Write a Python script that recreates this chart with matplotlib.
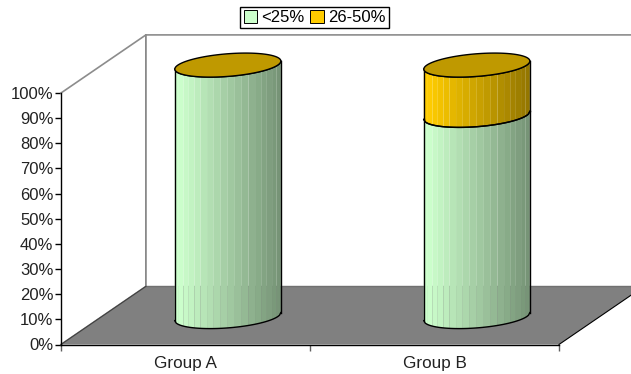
import matplotlib
matplotlib.use("Agg")
import matplotlib.pyplot as plt
import numpy as np
from matplotlib.patches import Patch

plt.rcParams['font.family'] = ['Liberation Sans', 'DejaVu Sans']

groups = ["Group A", "Group B"]
series_names = ["<25%", "26-50%"]
under_25 = [100, 80]
from_26_to_50 = [0, 20]
series_values = [under_25, from_26_to_50]
side_colors = ["#ccffcc", "#ffcc00"]
top_color = "#bf9900"
y_ticks = [0, 10, 20, 30, 40, 50, 60, 70, 80, 90, 100]
y_labels = ["0%", "10%", "20%", "30%", "40%", "50%", "60%", "70%", "80%", "90%", "100%"]

# 3d look, in axis units
depth_x = 0.341
depth_y = 23.1
cyl_offset = 0.67
cyl_a = 0.2129
cyl_b = 4.5
cyl_tilt = 1.6
cyl_base = 11.1
n_bands = 18


def shade(color, frac):
    rgb = np.array(matplotlib.colors.to_rgb(color))
    return tuple(rgb * (1 - 0.45 * max(frac - 0.05, 0)))


def edge_y(u, level):
    # u is cos(t) on the front half of the ellipse
    return level - cyl_b * np.sqrt(np.clip(1 - u ** 2, 0, 1)) + cyl_tilt * u


def draw_side(ax, cx, low, high, color):
    edges = np.linspace(-1, 1, n_bands + 1)
    edges = np.cos(np.linspace(np.pi, 0, n_bands + 1)) * 0.35 + edges * 0.65
    for e1, e2 in zip(edges[:-1], edges[1:]):
        u = np.linspace(e1, e2, 8)
        xs = cx + cyl_a * u
        frac = ((e1 + e2) / 2 + 1) / 2
        ax.fill(np.r_[xs, xs[::-1]], np.r_[edge_y(u, low), edge_y(u, high)[::-1]],
                color=shade(color, frac), lw=0, clip_on=False, zorder=3)
    u = np.linspace(-1, 1, 80)
    xs = cx + cyl_a * u
    ax.plot(xs, edge_y(u, low), color="black", lw=1, clip_on=False, zorder=4)
    ax.plot(xs, edge_y(u, high), color="black", lw=1, clip_on=False, zorder=4)
    ax.plot([cx - cyl_a, cx - cyl_a], [edge_y(-1.0, low), edge_y(-1.0, high)], color="black", lw=1, clip_on=False, zorder=4)
    ax.plot([cx + cyl_a, cx + cyl_a], [edge_y(1.0, low), edge_y(1.0, high)], color="black", lw=1, clip_on=False, zorder=4)


fig = plt.figure(figsize=(6.31, 3.74), dpi=100)
ax = fig.add_axes([61 / 631, 29.5 / 374, 498 / 631, 251.5 / 374])
ax.set_xlim(0, len(groups))
ax.set_ylim(0, 100)
ax.patch.set_alpha(0)

# floor and walls
ax.fill([0, 2, 2 + depth_x, depth_x], [0, 0, depth_y, depth_y], color="#808080", lw=0, clip_on=False, zorder=1)
ax.plot([0, depth_x, depth_x], [0, depth_y, 100 + depth_y], color="#808080", lw=1.2, clip_on=False, zorder=2)
ax.plot([depth_x, 2 + depth_x], [depth_y, depth_y], color="#707070", lw=1, clip_on=False, zorder=2)
ax.plot([0, depth_x, 2 + depth_x], [100, 100 + depth_y, 100 + depth_y], color="#8c8c8c", lw=1.2, clip_on=False, zorder=2)
ax.plot([0, depth_x], [0, depth_y], color="#404040", lw=0.8, clip_on=False, zorder=2)
ax.plot([2, 2 + depth_x], [0, depth_y], color="black", lw=0.8, clip_on=False, zorder=2)

# stacked cylinders
for i in range(len(groups)):
    cx = i + cyl_offset
    level = cyl_base
    for values, color in zip(series_values, side_colors):
        if values[i] > 0:
            draw_side(ax, cx, level, level + values[i], color)
        level += values[i]
    t = np.linspace(0, 2 * np.pi, 120)
    ax.fill(cx + cyl_a * np.cos(t), level + cyl_b * np.sin(t) + cyl_tilt * np.cos(t),
            facecolor=top_color, edgecolor="black", lw=1, clip_on=False, zorder=5)

for side in ["top", "right"]:
    ax.spines[side].set_visible(False)
for side in ["left", "bottom"]:
    ax.spines[side].set_linewidth(1)
    ax.spines[side].set_zorder(6)

ax.set_yticks(y_ticks)
ax.set_yticklabels(y_labels, fontsize=12, color="#222222")
ax.set_xticks(range(len(groups) + 1))
ax.set_xticklabels([])
ax.set_xticks([i + 0.5 for i in range(len(groups))], minor=True)
ax.set_xticklabels(groups, minor=True, fontsize=12.3, color="#222222")
ax.tick_params(axis="y", length=4, width=1, pad=1.5)
ax.tick_params(axis="x", which="major", length=4, width=1, color="#606060")
ax.tick_params(axis="x", which="minor", length=0, pad=8)

handles = [Patch(facecolor=c, edgecolor="black", lw=0.7) for c in side_colors]
fig.legend(handles, series_names, loc="center", bbox_to_anchor=(314.5 / 631, 1 - 17.5 / 374), ncol=2,
           fontsize=12, frameon=True, fancybox=False, edgecolor="black", framealpha=1,
           handlelength=0.8, handleheight=0.8, handletextpad=0.25, columnspacing=0.35,
           borderpad=0.2, borderaxespad=0)

fig.savefig("out.png", dpi=100)
